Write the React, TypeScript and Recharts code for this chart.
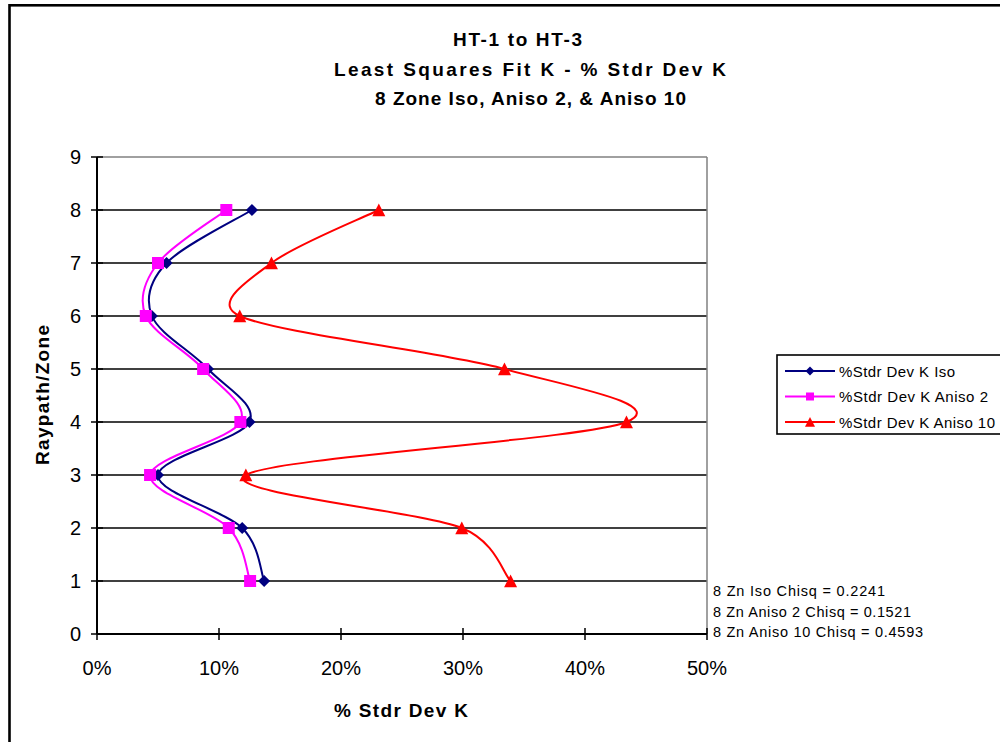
import React from 'react';
import { LineChart, Line, XAxis, YAxis, ReferenceLine } from 'recharts';

const zones = [1, 2, 3, 4, 5, 6, 7, 8];
const isoValues = [13.7, 11.9, 5.0, 12.5, 9.1, 4.5, 5.7, 12.7];
const aniso2Values = [12.55, 10.8, 4.35, 11.75, 8.7, 4.0, 5.0, 10.6];
const aniso10Values = [33.9, 29.9, 12.2, 43.4, 33.4, 11.7, 14.3, 23.1];
const xTicks = [0, 10, 20, 30, 40, 50];
const yTicks = [0, 1, 2, 3, 4, 5, 6, 7, 8, 9];
const gridValues = [1, 2, 3, 4, 5, 6, 7, 8];
const titleLines = ['HT-1 to HT-3', 'Least Squares Fit K - % Stdr Dev K', '8 Zone Iso, Aniso 2, & Aniso 10'];
const seriesNames = ['%Stdr Dev K Iso', '%Stdr Dev K Aniso 2', '%Stdr Dev K Aniso 10'];
const chisqLines = ['8 Zn Iso Chisq = 0.2241', '8 Zn Aniso 2 Chisq = 0.1521', '8 Zn Aniso 10 Chisq = 0.4593'];

const data = zones.map((z, i) => ({ zone: z, iso: isoValues[i], aniso2: aniso2Values[i], aniso10: aniso10Values[i] }));

const FONT = '"Liberation Sans", Arial, sans-serif';
const NAVY = '#000080';
const MAGENTA = '#FF00FF';
const RED = '#FF0000';

const dist = (a: number[], b: number[]) => Math.hypot(a[0] - b[0], a[1] - b[1]);

// Excel-like smoothed curve (Bezier with clamped Catmull-Rom tangents)
function excelCurve(context: any) {
  let pts: number[][] = [];
  return {
    areaStart() {},
    areaEnd() {},
    lineStart() { pts = []; },
    lineEnd() {
      const n = pts.length;
      if (n === 0) return;
      context.moveTo(pts[0][0], pts[0][1]);
      if (n === 1) return;
      for (let i = 0; i < n - 1; i++) {
        const p0 = pts[Math.max(0, i - 1)];
        const p1 = pts[i];
        const p2 = pts[i + 1];
        const p3 = pts[Math.min(n - 1, i + 2)];
        const d12 = dist(p1, p2);
        const d02 = dist(p0, p2);
        const d13 = dist(p1, p3);
        let f1 = 1 / 6;
        let f2 = 1 / 6;
        if (d02 / 6 > d12 / 2 && d02 > 0) f1 = d12 / (2 * d02);
        if (d13 / 6 > d12 / 2 && d13 > 0) f2 = d12 / (2 * d13);
        context.bezierCurveTo(
          p1[0] + (p2[0] - p0[0]) * f1, p1[1] + (p2[1] - p0[1]) * f1,
          p2[0] - (p3[0] - p1[0]) * f2, p2[1] - (p3[1] - p1[1]) * f2,
          p2[0], p2[1]
        );
      }
    },
    point(x: number, y: number) { pts.push([+x, +y]); },
  };
}

const Diamond = ({ cx, cy, r = 6, fill }: any) => (
  <path d={`M${cx},${cy - r}L${cx + r},${cy}L${cx},${cy + r}L${cx - r},${cy}Z`} fill={fill} />
);
const Square = ({ cx, cy, r = 6, fill }: any) => (
  <rect x={cx - r} y={cy - r} width={2 * r} height={2 * r} fill={fill} />
);
const Triangle = ({ cx, cy, r = 6.5, fill }: any) => (
  <path d={`M${cx},${cy - r}L${cx + r},${cy + r * 0.95}L${cx - r},${cy + r * 0.95}Z`} fill={fill} />
);

const X_MARGIN = 22;
const Y_MARGIN = 16;

const XTick = ({ x, y, payload }: any) => {
  const ay = y - X_MARGIN;
  return (
    <g>
      <line x1={x} x2={x} y1={ay - 6} y2={ay + 6} stroke="#000" strokeWidth={1.5} />
      <text x={x} y={ay + 41} textAnchor="middle" fontFamily={FONT} fontSize={20} fill="#000">{`${payload.value}%`}</text>
    </g>
  );
};

const YTick = ({ x, y, payload }: any) => {
  const ax = x + Y_MARGIN;
  return (
    <g>
      <line x1={ax - 6} x2={ax + 6} y1={y} y2={y} stroke="#000" strokeWidth={1.5} />
      <text x={ax - 16} y={y + 7} textAnchor="end" fontFamily={FONT} fontSize={20} fill="#000">{payload.value}</text>
    </g>
  );
};

const legendWidths = [116, 149, 156];
const chisqWidths = [172, 198, 210];

export default function App() {
  return (
    <div style={{ position: 'absolute', left: 0, top: 0, width: 1000, height: 742, background: '#fff', overflow: 'hidden' }}>
      <LineChart
        width={1000}
        height={742}
        data={data}
        layout="vertical"
        margin={{ top: 157, right: 293, bottom: 48, left: 37 }}
      >
        {gridValues.map((g) => (
          <ReferenceLine key={g} y={g} stroke="#000" strokeWidth={1.6} />
        ))}
        <ReferenceLine y={9} stroke="#808080" strokeWidth={1.5} />
        <ReferenceLine x={50} stroke="#808080" strokeWidth={1.5} />
        <XAxis
          type="number"
          domain={[0, 50]}
          ticks={xTicks}
          height={60}
          tickSize={0}
          tickMargin={X_MARGIN}
          tick={<XTick />}
          axisLine={{ stroke: '#000', strokeWidth: 2 }}
          tickLine={false}
          allowDataOverflow
        />
        <YAxis
          type="number"
          dataKey="zone"
          domain={[0, 9]}
          ticks={yTicks}
          width={60}
          reversed
          tickSize={0}
          tickMargin={Y_MARGIN}
          tick={<YTick />}
          axisLine={{ stroke: '#000', strokeWidth: 2 }}
          tickLine={false}
          allowDataOverflow
        />
        <Line
          dataKey="iso"
          type={excelCurve as any}
          stroke={NAVY}
          strokeWidth={2}
          isAnimationActive={false}
          dot={(p: any) => <Diamond key={`d${p.index}`} cx={p.cx} cy={p.cy} fill={NAVY} />}
        />
        <Line
          dataKey="aniso2"
          type={excelCurve as any}
          stroke={MAGENTA}
          strokeWidth={2}
          isAnimationActive={false}
          dot={(p: any) => <Square key={`s${p.index}`} cx={p.cx} cy={p.cy} fill={MAGENTA} />}
        />
        <Line
          dataKey="aniso10"
          type={excelCurve as any}
          stroke={RED}
          strokeWidth={2}
          isAnimationActive={false}
          dot={(p: any) => <Triangle key={`t${p.index}`} cx={p.cx} cy={p.cy} fill={RED} />}
        />
      </LineChart>
      <svg width={1000} height={742} style={{ position: 'absolute', left: 0, top: 0, pointerEvents: 'none' }}>
        <rect x={9.5} y={5.3} width={1100} height={1000} fill="none" stroke="#000" strokeWidth={2.6} />
        <text x={453} y={46} fontFamily={FONT} fontSize={19} fontWeight="bold" textLength={129} lengthAdjust="spacing">{titleLines[0]}</text>
        <text x={334} y={76} fontFamily={FONT} fontSize={19} fontWeight="bold" textLength={392} lengthAdjust="spacing">{titleLines[1]}</text>
        <text x={375} y={105} fontFamily={FONT} fontSize={19} fontWeight="bold" textLength={311} lengthAdjust="spacing">{titleLines[2]}</text>
        <text x={334} y={717} fontFamily={FONT} fontSize={19} fontWeight="bold" textLength={134} lengthAdjust="spacing">% Stdr Dev K</text>
        <text x={49} y={465} fontFamily={FONT} fontSize={19} fontWeight="bold" textLength={140} lengthAdjust="spacing" transform="rotate(-90 49 465)">Raypath/Zone</text>
        {chisqLines.map((t, i) => (
          <text key={t} x={713} y={596 + i * 20.5} fontFamily={FONT} fontSize={14.5} fill="#000" textLength={chisqWidths[i]} lengthAdjust="spacing">{t}</text>
        ))}
        <rect x={777} y={355} width={240} height={79} fill="#fff" stroke="#000" strokeWidth={1.6} />
        {seriesNames.map((name, i) => {
          const cy = 371 + i * 25.5;
          const color = [NAVY, MAGENTA, RED][i];
          return (
            <g key={name}>
              <line x1={785} x2={835} y1={cy} y2={cy} stroke={color} strokeWidth={2} />
              {i === 0 && <Diamond cx={810} cy={cy} r={4.5} fill={color} />}
              {i === 1 && <Square cx={810} cy={cy} r={4} fill={color} />}
              {i === 2 && <Triangle cx={810} cy={cy} r={5} fill={color} />}
              <text x={839} y={cy + 5.5} fontFamily={FONT} fontSize={15} fill="#000" textLength={legendWidths[i]} lengthAdjust="spacing">{name}</text>
            </g>
          );
        })}
      </svg>
    </div>
  );
}
